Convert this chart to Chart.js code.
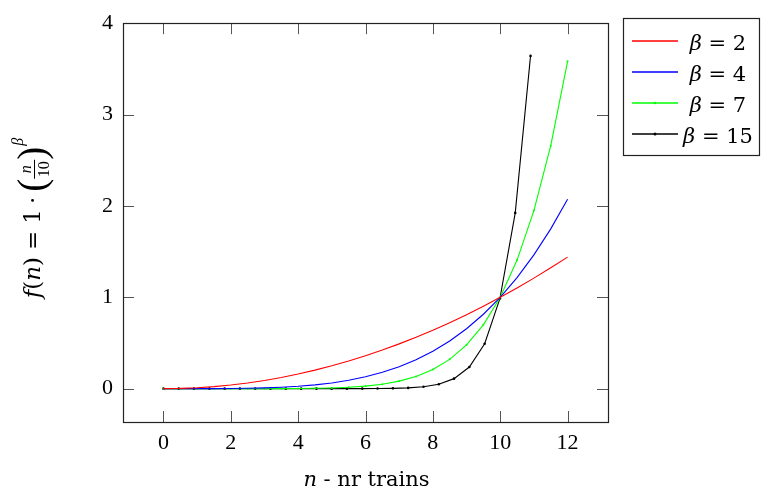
<!DOCTYPE html>
<html>
<head>
<meta charset="utf-8">
<script src="https://cdn.jsdelivr.net/npm/chart.js@4/dist/chart.umd.min.js"></script>
<style>
html,body{margin:0;padding:0;background:#fff;}
canvas{display:block;}
</style>
</head>
<body>
<canvas id="c" width="762" height="488"></canvas>
<script>
// ---- data ----
const nValues = [0,0.5,1,1.5,2,2.5,3,3.5,4,4.5,5,5.5,6,6.5,7,7.5,8,8.5,9,9.5,10,10.5,11,11.5,12];
const beta2 = [0,0.0025,0.01,0.0225,0.04,0.0625,0.09,0.1225,0.16,0.2025,0.25,0.3025,0.36,0.4225,0.49,0.5625,0.64,0.7225,0.81,0.9025,1,1.1025,1.21,1.3225,1.44];
const beta4 = [0,0,0.0001,0.0005,0.0016,0.0039,0.0081,0.015,0.0256,0.041,0.0625,0.0915,0.1296,0.1785,0.2401,0.3164,0.4096,0.522,0.6561,0.8145,1,1.2155,1.4641,1.749,2.0736];
const beta7 = [0,0,0,0,0,0.0001,0.0002,0.0006,0.0016,0.0037,0.0078,0.0152,0.028,0.049,0.0824,0.1335,0.2097,0.3206,0.4783,0.6983,1,1.4071,1.9487,2.66,3.5832];
const nValues15 = [0,0.454,0.908,1.363,1.817,2.271,2.725,3.179,3.633,4.088,4.542,4.996,5.45,5.904,6.358,6.813,7.267,7.721,8.175,8.629,9.083,9.538,9.992,10.446,10.9];
const beta15 = [0,0,0,0,0,0,0,0,0,0,0,0.00003,0.0001,0.0004,0.0011,0.0032,0.0083,0.0206,0.0487,0.1096,0.2364,0.4915,0.9876,1.9237,3.642];
const xTicks = [0,2,4,6,8,10,12];
const yTicks = [0,1,2,3,4];
const seriesLabels = ['2','4','7','15'];
const seriesColors = ['#ff0000','#0000ff','#00ff00','#000000'];

const SERIF = '"Liberation Serif", "DejaVu Serif", serif';
const DSERIF = '"DejaVu Serif", "Liberation Serif", serif';

function pts(xs, ys){ return xs.map((x,i)=>({x:x, y:ys[i]})); }

const datasets = [
  {label:seriesLabels[0], data:pts(nValues,beta2), borderColor:seriesColors[0], backgroundColor:seriesColors[0], pointRadius:0, borderWidth:1.1},
  {label:seriesLabels[1], data:pts(nValues,beta4), borderColor:seriesColors[1], backgroundColor:seriesColors[1], pointRadius:0, borderWidth:1.1},
  {label:seriesLabels[2], data:pts(nValues,beta7), borderColor:seriesColors[2], backgroundColor:seriesColors[2], pointRadius:1, pointBorderWidth:0, borderWidth:1.1},
  {label:seriesLabels[3], data:pts(nValues15,beta15), borderColor:seriesColors[3], backgroundColor:seriesColors[3], pointRadius:1.3, pointBorderWidth:0, borderWidth:1.1}
];

function drawParts(ctx, parts, x, y){
  let cx = x;
  for(const p of parts){ ctx.font = p[1]; ctx.fillText(p[0], cx, y); cx += ctx.measureText(p[0]).width; }
  return cx;
}
function partsWidth(ctx, parts){
  let w=0; for(const p of parts){ ctx.font=p[1]; w+=ctx.measureText(p[0]).width; } return w;
}

const decor = {
  id:'decor',
  afterDraw(chart){
    const ctx = chart.ctx, a = chart.chartArea;
    const xs = chart.scales.x, ys = chart.scales.y;
    ctx.save();
    // ticks (inward, both sides)
    ctx.strokeStyle = '#555'; ctx.lineWidth = 1;
    const tl = 11;
    ctx.beginPath();
    for(const v of xTicks){
      const px = Math.round(xs.getPixelForValue(v))+0.5;
      ctx.moveTo(px, a.bottom); ctx.lineTo(px, a.bottom - tl);
      ctx.moveTo(px, a.top); ctx.lineTo(px, a.top + tl);
    }
    for(const v of yTicks){
      const py = Math.round(ys.getPixelForValue(v))+0.5;
      ctx.moveTo(a.left, py); ctx.lineTo(a.left + tl, py);
      ctx.moveTo(a.right, py); ctx.lineTo(a.right - tl, py);
    }
    ctx.stroke();
    // box
    ctx.strokeStyle = '#222'; ctx.lineWidth = 1.2;
    ctx.strokeRect(Math.round(a.left)+0.5, Math.round(a.top)+0.5, Math.round(a.right-a.left), Math.round(a.bottom-a.top));

    // x title
    ctx.fillStyle = '#000'; ctx.textBaseline = 'alphabetic'; ctx.textAlign = 'left';
    const xt = [['n','italic 21px '+DSERIF],[' - nr trains','21px '+DSERIF]];
    const xw = partsWidth(ctx, xt);
    drawParts(ctx, xt, (a.left+a.right)/2 + 1 - xw/2, 486);

    // y title (rotated), baseline at screen x = 40
    ctx.save();
    ctx.translate(40, 218);
    ctx.rotate(-Math.PI/2);
    const F = '23px '+DSERIF, FI = 'italic 23px '+DSERIF, BIG = '39px '+SERIF;
    const FR = '16px '+SERIF, FRI = 'italic 16px '+SERIF;
    const seq = [
      ['t','f',FI,0],['t','(',F,0],['t','n',FI,0],['t',')',F,0],['g',7],
      ['t','=',F,0],['g',7],['t','1',F,0],['g',5],['t','\u00b7',F,0],['g',5],
      ['t','(',BIG,5],['frac'],['t',')',BIG,5],['g',1],['t','\u03b2',FRI,-17]
    ];
    ctx.font = FR; const fracW = ctx.measureText('10').width + 3;
    let total = 0;
    for(const s of seq){
      if(s[0]==='g') total += s[1];
      else if(s[0]==='frac') total += fracW;
      else { ctx.font = s[2]; total += ctx.measureText(s[1]).width; }
    }
    let cx = -total/2;
    for(const s of seq){
      if(s[0]==='g'){ cx += s[1]; }
      else if(s[0]==='frac'){
        ctx.fillRect(cx, -6, fracW, 1);
        ctx.font = FRI; const nW = ctx.measureText('n').width;
        ctx.fillText('n', cx + (fracW-nW)/2, -9);
        ctx.font = FR; const tW = ctx.measureText('10').width;
        ctx.fillText('10', cx + (fracW-tW)/2, 9);
        cx += fracW;
      } else {
        ctx.font = s[2]; ctx.fillText(s[1], cx, s[3]); cx += ctx.measureText(s[1]).width;
      }
    }
    ctx.restore();

    // legend
    const lx = 623.5, ly = 18.5, lw = 136, lh = 137;
    ctx.fillStyle = '#fff';
    ctx.fillRect(lx, ly, lw, lh);
    ctx.strokeStyle = '#222'; ctx.lineWidth = 1.2;
    ctx.strokeRect(lx, ly, lw, lh);
    const rowY = [41, 72, 103, 134];
    chart.data.datasets.forEach((ds, i) => {
      const y = rowY[i];
      ctx.strokeStyle = ds.borderColor; ctx.lineWidth = 1.3;
      ctx.beginPath(); ctx.moveTo(632, y); ctx.lineTo(678, y); ctx.stroke();
      if(ds.pointRadius > 0){
        ctx.fillStyle = ds.backgroundColor;
        ctx.beginPath(); ctx.arc(655, y, ds.pointRadius+0.2, 0, Math.PI*2); ctx.fill();
      }
      ctx.fillStyle = '#000';
      const parts = [['\u03b2','italic 21px '+DSERIF],[' = '+ds.label,'21px '+DSERIF]];
      const w = partsWidth(ctx, parts);
      drawParts(ctx, parts, 718 - w/2, y + 8.5);
    });
    ctx.restore();
  }
};

new Chart(document.getElementById('c'), {
  type:'line',
  data:{datasets:datasets},
  options:{
    responsive:false,
    animation:false,
    devicePixelRatio:1,
    layout:{padding:{left:0, right:154, top:20, bottom:0}},
    elements:{line:{tension:0}},
    plugins:{legend:{display:false}, tooltip:{enabled:false}},
    scales:{
      x:{
        type:'linear', min:-1.2, max:13.2,
        afterBuildTicks(s){ s.ticks = xTicks.map(v=>({value:v})); },
        afterFit(s){ s.height = 66; },
        grid:{display:false, drawTicks:false}, border:{display:false},
        ticks:{padding:8, color:'#000', font:{family:SERIF, size:22}, maxRotation:0, autoSkip:false}
      },
      y:{
        type:'linear', min:-0.365, max:4.0,
        afterBuildTicks(s){ s.ticks = yTicks.map(v=>({value:v})); },
        afterFit(s){ s.width = 123; },
        grid:{display:false, drawTicks:false}, border:{display:false},
        ticks:{padding:10, color:'#000', font:{family:SERIF, size:22}, autoSkip:false}
      }
    }
  },
  plugins:[decor]
});
</script>
</body>
</html>
